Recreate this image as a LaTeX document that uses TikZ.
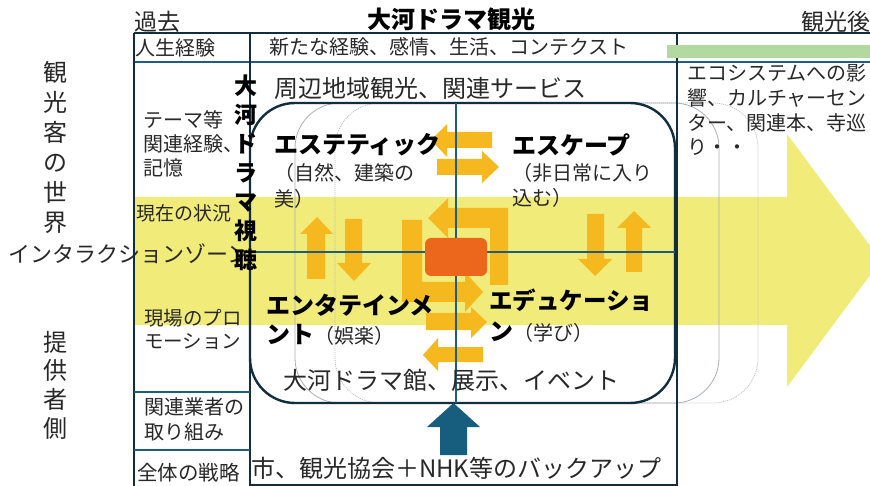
\documentclass[tikz,border=0pt]{standalone}
\usepackage{fontspec}
\setmainfont{Noto Sans CJK JP}
\definecolor{bandyellow}{RGB}{241,235,122}
\definecolor{arroworange}{RGB}{245,184,31}
\definecolor{coreorange}{RGB}{236,103,28}
\definecolor{navy}{RGB}{16,46,64}
\definecolor{crossblue}{RGB}{27,94,128}
\definecolor{basearrow}{RGB}{23,94,126}
\definecolor{ghostgray}{RGB}{168,175,180}
\definecolor{barGreen}{RGB}{178,217,160}
\definecolor{textgray}{RGB}{40,40,40}
\newcommand{\fsz}[1]{\fontsize{#1}{#1}\selectfont}
\newcommand{\vfsz}[2]{\fontsize{#1}{#2}\selectfont}
\tikzset{
  txt/.style={inner sep=0pt, outer sep=0pt, anchor=west, text=textgray},
  boldtxt/.style={inner sep=0pt, outer sep=0pt, anchor=west, text=black, font=\bfseries\fsz{24}},
  vtxt/.style={inner sep=0pt, outer sep=0pt, align=center, text=textgray},
  tableline/.style={draw=navy, line width=1.6pt},
  rowline/.style={draw=crossblue, line width=1.6pt},
  crossline/.style={draw=crossblue, line width=1.6pt},
  orangearrow/.style={fill=arroworange, draw=none},
}
\begin{document}
\begin{tikzpicture}[x=1pt, y=-1pt]
\useasboundingbox (0,0) rectangle (870,486);
\fill[white] (0,0) rectangle (870,486);
% big yellow arrow
\begin{scope}
\clip (0,0) rectangle (870,486);
\fill[bandyellow] (134,197) -- (787,197) -- (787,134) -- (881,260.5) -- (787,387) -- (787,325) -- (134,325) -- cycle;
\end{scope}
% ghost rounded rectangles
\draw[ghostgray, line width=0.8pt, rounded corners=45pt] (295,103) rectangle (719,403);
\draw[ghostgray!80, line width=0.8pt, dash pattern=on 1pt off 1pt, rounded corners=45pt] (335,103) rectangle (758,403);
% main rounded rectangle
\draw[navy, line width=2.4pt, rounded corners=45pt] (250,103) rectangle (675,403);
% table lines
\draw[tableline] (134,33) -- (870,33);
\draw[rowline] (134,62) -- (870,62);
\draw[tableline] (134,33) -- (134,486);
\draw[tableline] (250,33) -- (250,486);
\draw[tableline] (677,33) -- (677,486);
\draw[tableline] (250,485) -- (677,485);
\draw[rowline] (134,392) -- (250,392);
\draw[rowline] (134,450) -- (250,450);
% green bar
\fill[barGreen] (667,45) rectangle (870,58);
% orange arrows
\fill[orangearrow] (492,132) -- (447,132) -- (447,124) -- (431,140) -- (447,157) -- (447,148) -- (492,148) -- cycle;
\fill[orangearrow] (437,159) -- (482,159) -- (482,151) -- (499,167) -- (482,183) -- (482,175) -- (437,175) -- cycle;
\fill[orangearrow] (508,285) -- (508,208) -- (448,208) -- (448,198) -- (428,218) -- (448,238) -- (448,228) -- (490,228) -- (490,285) -- cycle;
\fill[orangearrow] (402,220) -- (422,220) -- (422,282) -- (465,282) -- (465,272) -- (483,292) -- (465,312) -- (465,302) -- (402,302) -- cycle;
\fill[orangearrow] (426,313) -- (471,313) -- (471,307) -- (487,322) -- (471,338) -- (471,330) -- (426,330) -- cycle;
\fill[orangearrow] (483,347) -- (438,347) -- (438,338) -- (423,355) -- (438,371) -- (438,362) -- (483,362) -- cycle;
\fill[orangearrow] (307,279) -- (307,234) -- (300,234) -- (317,217) -- (333,234) -- (325,234) -- (325,279) -- cycle;
\fill[orangearrow] (345,219) -- (362,219) -- (362,263) -- (371,263) -- (354,281) -- (337,263) -- (345,263) -- cycle;
\fill[orangearrow] (587,214) -- (604,214) -- (604,259) -- (612,259) -- (595,276) -- (578,259) -- (587,259) -- cycle;
\fill[orangearrow] (626,272) -- (626,228) -- (617,228) -- (634,211) -- (651,228) -- (642,228) -- (642,272) -- cycle;
% cross lines
\draw[crossline] (456,103) -- (456,403);
\draw[crossline] (250,252) -- (675,252);
% core rectangle
\fill[coreorange, rounded corners=6pt] (425,238) rectangle (487,276);
% blue support arrow
\fill[basearrow] (440,455) -- (440,427) -- (427,427) -- (453.5,403) -- (480,427) -- (467,427) -- (467,455) -- cycle;
% header texts
\node[txt, font=\fsz{23}] (kako) at (134,22) {過去};
\node[inner sep=0pt, text=black, font=\bfseries\fsz{24}] (title) at (451,19) {大河ドラマ観光};
\node[txt, font=\fsz{23}] (kankogo) at (801,22) {観光後};
\node[txt, font=\fsz{20}] (jinsei) at (135,48) {人生経験};
\node[txt, font=\fsz{20}] (arata) at (269,47) {新たな経験、感情、生活、コンテクスト};
\node[txt, font=\fsz{24}] (shuhen) at (274,88) {周辺地域観光、関連サービス};
\node[txt, font=\fsz{20}] (eco1) at (687,73) {エコシステムへの影};
\node[txt, font=\fsz{20}] (eco2) at (687,98) {響、カルチャーセン};
\node[txt, font=\fsz{20}] (eco3) at (687,123) {ター、関連本、寺巡};
\node[txt, font=\fsz{20}] (eco4) at (687,147) {り・・};
% left side
\node[vtxt, font={\vfsz{24}{30}}] (kankokyaku) at (55,147.5) {観\\光\\客\\の\\世\\界};
\node[vtxt, font={\vfsz{24}{28.7}}] (teikyo) at (55,385) {提\\供\\者\\側};
\node[txt, font=\fsz{22}] (interaction) at (9,254) {インタラクションゾーン};
\node[txt, font=\fsz{20}] (theme1) at (143,120) {テーマ等};
\node[txt, font=\fsz{20}] (theme2) at (143,144) {関連経験、};
\node[txt, font=\fsz{20}] (theme3) at (143,168) {記憶};
\node[txt, font=\fsz{19}] (genzai) at (136,213) {現在の状況};
\node[txt, font=\fsz{19.5}] (genba1) at (144,318) {現場のプロ};
\node[txt, font=\fsz{19.5}] (genba2) at (144,342) {モーション};
\node[txt, font=\fsz{20}] (kanren1) at (144,407) {関連業者の};
\node[txt, font=\fsz{20}] (kanren2) at (144,432) {取り組み};
\node[txt, font=\fsz{20.5}] (zentai) at (137,473) {全体の戦略};
\node[vtxt, text=black, font={\bfseries\vfsz{23}{29}}] (shicho) at (246,172.5) {大\\河\\ド\\ラ\\マ\\視\\聴};
% quadrant texts
\node[boldtxt] (aesthetic) at (274,145) {エステティック};
\node[txt, font=\fsz{20}] (aes1) at (274,173) {（自然、建築の};
\node[txt, font=\fsz{20}] (aes2) at (274,199) {美）};
\node[boldtxt] (escape) at (512,145) {エスケープ};
\node[txt, font=\fsz{20}] (esc1) at (512,173) {（非日常に入り};
\node[txt, font=\fsz{20}] (esc2) at (512,198) {込む）};
\node[boldtxt] (ent1) at (266,305) {エンタテインメ};
\node[boldtxt] (ent2) at (266,335) {ント{\mdseries\color{textgray}\fsz{20}（娯楽）}};
\node[boldtxt, font=\bfseries\fsz{23.5}] (edu1) at (489,300) {エデュケーショ};
\node[boldtxt] (edu2) at (489,332) {ン{\mdseries\color{textgray}\fsz{20}（学び）}};
% bottom texts
\node[txt, font=\fsz{24}] (kan) at (283,380) {大河ドラマ館、展示、イベント};
\node[txt, font=\fsz{24}] (backup) at (251,468) {市、観光協会＋NHK等のバックアップ};
\end{tikzpicture}
\end{document}
